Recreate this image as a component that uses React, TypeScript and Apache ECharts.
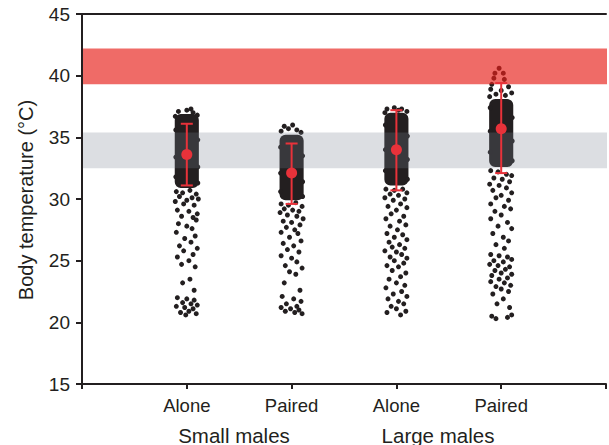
import React, { useEffect, useRef } from "react";
import * as echarts from "echarts";

// Tick / category labels
const conditionLabels = ["", "Alone", "Paired", "Alone", "Paired", ""];
const groupLabels = ["Small males", "Large males"];

// Reference bands (°C): [low, high]
const criticalBand = [39.3, 42.2];
const preferredBand = [32.5, 35.4];

// Mean ± SD per group (x = 1..4)
const means = [33.6, 32.1, 34.0, 35.7];
const sdLow = [31.1, 29.6, 30.7, 32.1];
const sdHigh = [36.1, 34.5, 37.2, 39.4];

// Dense core of each jittered cloud: [x, low, high]
const denseCores = [
  [1, 30.9, 36.9],
  [2, 29.9, 35.2],
  [3, 31.1, 37.0],
  [4, 32.6, 38.1],
];

// Individual (sparse) observations: [jitter, temperature]
const smallAlone = [
  [-0.08, 37.1], [0.0, 37.2], [0.06, 37.0], [0.1, 36.8], [-0.11, 36.7], [0.04, 37.3],
  [-0.105, 35.6], [0.105, 34.8], [-0.105, 33.4], [0.105, 32.6], [-0.105, 31.8], [0.105, 31.3],
  [-0.1, 30.6], [-0.04, 30.5], [0.03, 30.7], [0.09, 30.4], [-0.07, 30.2], [0.05, 30.1],
  [0.11, 30.0], [-0.11, 29.8], [0.0, 29.9], [-0.03, 29.6], [0.07, 29.5],
  [-0.09, 29.1], [0.02, 29.0], [0.1, 28.8], [-0.05, 28.6], [0.06, 28.5], [0.09, 28.3],
  [-0.08, 28.0], [0.0, 27.8], [0.05, 27.6], [-0.1, 27.3], [0.08, 27.0], [-0.02, 26.8],
  [0.04, 26.5], [-0.07, 26.2], [0.1, 26.0], [-0.03, 25.8], [0.06, 25.5], [-0.09, 25.3],
  [0.02, 25.0], [-0.05, 24.7], [0.08, 24.5],
  [0.03, 23.5], [-0.04, 23.2], [0.07, 22.6],
  [-0.09, 22.0], [0.0, 21.9], [0.07, 21.8], [-0.04, 21.6], [0.04, 21.5], [0.1, 21.4],
  [-0.1, 21.3], [-0.02, 21.2], [0.06, 21.1], [0.02, 20.9], [-0.06, 20.8], [0.09, 20.7],
  [-0.01, 20.6],
];
const smallPaired = [
  [-0.07, 35.9], [0.01, 36.0], [-0.03, 35.7], [0.05, 35.6], [-0.1, 35.5], [0.09, 35.4],
  [-0.105, 34.2], [0.105, 33.5], [-0.105, 32.1], [0.105, 31.4], [-0.105, 30.6], [0.105, 30.2],
  [-0.1, 29.6], [-0.03, 29.5], [0.04, 29.7], [0.1, 29.4], [-0.07, 29.2], [0.01, 29.1],
  [0.07, 29.0], [-0.11, 28.9], [-0.04, 28.7], [0.05, 28.6], [0.11, 28.4], [-0.08, 28.2],
  [0.0, 28.1], [0.08, 27.9], [-0.05, 27.7], [0.03, 27.5], [-0.1, 27.3], [0.06, 27.2],
  [-0.02, 26.9], [0.09, 26.6], [-0.08, 26.4], [0.02, 26.2], [-0.04, 25.9], [0.07, 25.7],
  [-0.1, 25.4], [0.0, 25.2], [0.05, 24.9], [-0.06, 24.6], [0.1, 24.4], [-0.02, 24.1],
  [0.04, 23.9],
  [-0.07, 23.2], [0.08, 22.6], [-0.09, 22.1], [0.02, 21.9], [0.09, 21.7], [-0.05, 21.5],
  [0.05, 21.3], [-0.1, 21.2], [-0.01, 21.1], [0.07, 21.0], [-0.06, 20.9], [0.03, 20.8],
  [0.1, 20.7],
];
const largeAlone = [
  [-0.09, 37.3], [-0.02, 37.4], [0.05, 37.3], [0.1, 37.1], [-0.11, 37.0], [0.02, 37.2],
  [-0.105, 36.0], [0.105, 35.1], [-0.105, 34.0], [0.105, 33.2], [-0.105, 32.3], [0.105, 31.6],
  [-0.1, 30.8], [-0.02, 30.7], [0.06, 30.8], [0.1, 30.5], [-0.06, 30.4], [0.02, 30.3],
  [-0.11, 30.1], [0.08, 30.0], [-0.03, 29.9], [0.04, 29.6], [-0.08, 29.4], [0.1, 29.3],
  [0.0, 29.1], [-0.05, 28.8], [0.07, 28.6], [-0.1, 28.4], [0.03, 28.2], [0.09, 27.9],
  [-0.06, 27.8], [0.01, 27.5], [-0.09, 27.2], [0.06, 27.1], [-0.02, 26.9], [0.1, 26.7],
  [-0.07, 26.5], [0.03, 26.3], [-0.04, 26.1], [0.08, 26.0], [-0.11, 25.8], [0.0, 25.7],
  [0.05, 25.5], [-0.06, 25.3], [0.1, 25.2], [-0.02, 25.0], [0.07, 24.8], [-0.09, 24.6],
  [0.02, 24.5], [-0.04, 24.2], [0.09, 24.0], [0.04, 23.7], [-0.07, 23.5], [0.0, 23.2],
  [0.08, 23.0], [-0.1, 22.8], [0.05, 22.5], [-0.03, 22.3], [0.1, 22.1], [-0.08, 21.9],
  [0.02, 21.7], [0.07, 21.5], [-0.05, 21.3], [0.0, 21.1], [0.09, 20.9], [-0.09, 20.8],
  [0.04, 20.6],
];
const largePaired = [
  [-0.02, 40.6], [-0.06, 40.2], [0.02, 40.2], [-0.07, 39.8], [0.03, 39.7],
  [-0.09, 39.3], [0.07, 39.1], [-0.1, 38.9], [0.0, 38.8], [0.1, 38.6], [-0.05, 38.5],
  [0.04, 38.4], [-0.11, 38.3],
  [-0.105, 37.4], [0.105, 36.6], [-0.105, 35.5], [0.105, 34.7], [-0.105, 33.8], [0.105, 33.1],
  [-0.1, 32.3], [-0.03, 32.2], [0.05, 32.0], [0.1, 31.9], [-0.07, 31.7], [0.01, 31.6],
  [0.08, 31.4], [-0.11, 31.2], [-0.02, 31.1], [0.05, 30.9], [-0.08, 30.7], [0.1, 30.5],
  [0.0, 30.3], [-0.05, 30.1], [0.07, 29.9], [-0.1, 29.6], [0.03, 29.4], [0.09, 29.2],
  [-0.06, 29.0],
  [0.0, 28.7], [-0.1, 28.4], [0.06, 28.1], [-0.03, 27.8], [0.1, 27.6], [-0.08, 27.2],
  [0.02, 26.9], [0.07, 26.6], [-0.05, 26.3], [0.03, 26.0],
  [-0.1, 25.5], [-0.02, 25.4], [0.06, 25.3], [0.1, 25.1], [-0.07, 25.0], [0.02, 24.9],
  [-0.11, 24.7], [-0.03, 24.6], [0.08, 24.5], [0.04, 24.3], [-0.06, 24.2], [0.0, 24.0],
  [0.1, 23.9], [-0.09, 23.8], [0.06, 23.6], [-0.02, 23.5], [-0.1, 23.3], [0.03, 23.2],
  [0.09, 23.0], [-0.05, 22.9], [0.0, 22.7], [0.07, 22.5], [-0.08, 22.3],
  [0.02, 21.9], [-0.04, 21.5], [0.08, 21.2], [-0.09, 20.5], [-0.05, 20.3], [0.06, 20.4],
  [0.1, 20.6],
];
const groupPoints = [smallAlone, smallPaired, largeAlone, largePaired];

const INK = "#231f20";
const RED = "#e8323a";
const FONT = "Liberation Sans";

export default function App() {
  const ref = useRef<HTMLDivElement>(null);

  useEffect(() => {
    document.body.style.margin = "0";
    document.body.style.overflow = "hidden";
    if (!ref.current) return;
    const chart = echarts.init(ref.current, null, { renderer: "svg" });

    const scatterData: number[][] = [];
    groupPoints.forEach((pts, gi) => {
      pts.forEach(([j, t]) => scatterData.push([gi + 1 + j, t]));
    });

    const bands = [
      [criticalBand[0], criticalBand[1], 0],
      [preferredBand[0], preferredBand[1], 1],
    ];
    const bandColors = ["rgba(230,30,25,0.66)", "rgba(120,128,142,0.26)"];

    const errData = means.map((m, i) => [i + 1, sdLow[i], sdHigh[i]]);

    chart.setOption({
      animation: false,
      grid: { left: 82, right: 0, top: 14, bottom: 61, containLabel: false },
      xAxis: [
        {
          type: "value",
          min: 0,
          max: 5,
          interval: 1,
          splitLine: { show: false },
          axisLine: { lineStyle: { color: INK, width: 2 } },
          axisTick: { length: 5, lineStyle: { color: INK, width: 2 } },
          axisLabel: {
            formatter: (v: number) => conditionLabels[Math.round(v)] || "",
            color: INK,
            fontFamily: FONT,
            fontSize: 18.5,
            margin: 12,
          },
        },
        {
          type: "value",
          position: "top",
          min: 0,
          max: 5,
          splitLine: { show: false },
          axisLine: { show: true, lineStyle: { color: INK, width: 2 } },
          axisTick: { show: false },
          axisLabel: { show: false },
        },
      ],
      yAxis: {
        type: "value",
        min: 15,
        max: 45,
        interval: 5,
        splitLine: { show: false },
        axisLine: { show: true, lineStyle: { color: INK, width: 2 } },
        axisTick: { show: true, length: 6, lineStyle: { color: INK, width: 2 } },
        axisLabel: { color: INK, fontFamily: FONT, fontSize: 19, margin: 12 },
      },
      graphic: [
        {
          type: "text",
          x: 26,
          y: 200,
          rotation: Math.PI / 2,
          style: {
            text: "Body temperature (°C)",
            fill: INK,
            font: `20px ${FONT}`,
            align: "center",
            verticalAlign: "middle",
          },
        },
        {
          type: "text",
          x: 234,
          y: 435,
          style: {
            text: groupLabels[0],
            fill: INK,
            font: `20.5px ${FONT}`,
            align: "center",
            verticalAlign: "middle",
          },
        },
        {
          type: "text",
          x: 438,
          y: 435,
          style: {
            text: groupLabels[1],
            fill: INK,
            font: `20.5px ${FONT}`,
            align: "center",
            verticalAlign: "middle",
          },
        },
      ],
      series: [
        {
          type: "custom",
          z: 2,
          data: denseCores,
          renderItem: (params: any, api: any) => {
            const x = api.value(0);
            const p1 = api.coord([x - 0.115, api.value(2)]);
            const p2 = api.coord([x + 0.115, api.value(1)]);
            return {
              type: "rect",
              shape: { x: p1[0], y: p1[1], width: p2[0] - p1[0], height: p2[1] - p1[1], r: 6 },
              style: { fill: INK },
            };
          },
        },
        {
          type: "scatter",
          z: 2,
          symbol: "circle",
          symbolSize: 5,
          itemStyle: { color: INK, opacity: 1 },
          data: scatterData,
        },
        {
          type: "custom",
          z: 3,
          data: bands,
          renderItem: (params: any, api: any) => {
            const p1 = api.coord([0, api.value(1)]);
            const p2 = api.coord([5, api.value(0)]);
            return {
              type: "rect",
              shape: { x: p1[0] + 1, y: p1[1], width: p2[0] - p1[0], height: p2[1] - p1[1] },
              style: { fill: bandColors[api.value(2)] },
            };
          },
        },
        {
          type: "custom",
          z: 4,
          data: errData,
          renderItem: (params: any, api: any) => {
            const x = api.value(0);
            const lo = api.coord([x, api.value(1)]);
            const hi = api.coord([x, api.value(2)]);
            const cap = 6;
            const st = { stroke: RED, lineWidth: 2 };
            return {
              type: "group",
              children: [
                { type: "line", shape: { x1: lo[0], y1: lo[1], x2: hi[0], y2: hi[1] }, style: st },
                { type: "line", shape: { x1: lo[0] - cap, y1: lo[1], x2: lo[0] + cap, y2: lo[1] }, style: st },
                { type: "line", shape: { x1: hi[0] - cap, y1: hi[1], x2: hi[0] + cap, y2: hi[1] }, style: st },
              ],
            };
          },
        },
        {
          type: "scatter",
          z: 5,
          symbol: "circle",
          symbolSize: 11,
          itemStyle: { color: RED, opacity: 1 },
          data: means.map((m, i) => [i + 1, m]),
        },
      ],
    });

    return () => chart.dispose();
  }, []);

  return <div ref={ref} style={{ position: "absolute", left: 0, top: 0, width: 609, height: 445 }} />;
}
